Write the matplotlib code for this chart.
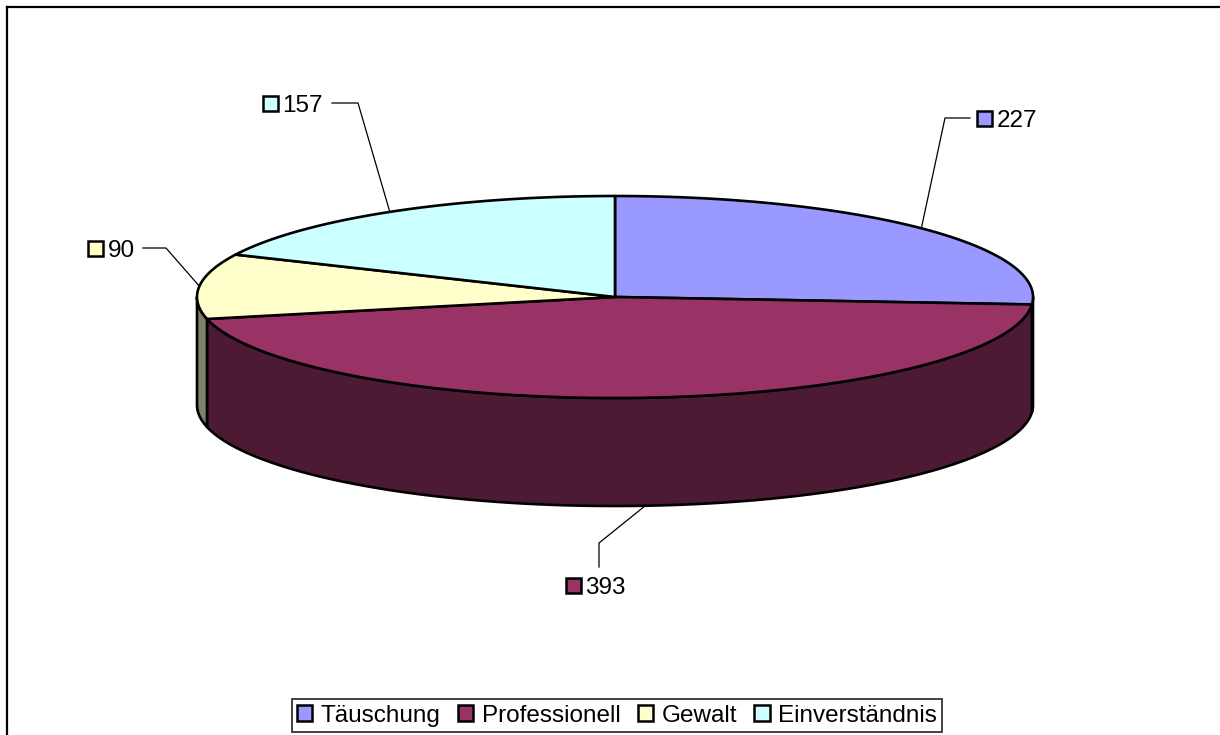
import numpy as np
import matplotlib
matplotlib.use("Agg")
import matplotlib.pyplot as plt
from matplotlib.patches import Polygon, Rectangle
from matplotlib.lines import Line2D

plt.rcParams['font.family'] = ['Liberation Sans', 'DejaVu Sans']

categories = ["Täuschung", "Professionell", "Gewalt", "Einverständnis"]
values = [227, 393, 90, 157]
colors = ["#9999FF", "#993366", "#FFFFCC", "#CCFFFF"]
side_colors = ["#4D4D80", "#4D1A33", "#808066", "#668080"]

W, H = 1220, 735
fig = plt.figure(figsize=(W / 100, H / 100), dpi=100)
ax = fig.add_axes([0, 0, 1, 1])
ax.set_xlim(0, W)
ax.set_ylim(H, 0)
ax.axis("off")

# pie geometry (screen pixels, y down)
cx, cy, rx, ry, depth = 615, 297, 418, 101, 108
lw = 1.9


def pt(t_deg, dy=0.0):
    t = np.radians(t_deg)
    return cx + rx * np.sin(t), cy - ry * np.cos(t) + dy


total = float(sum(values))
bounds = np.concatenate([[0], np.cumsum(values) / total * 360.0])

# sides (visible between 90 and 270 degrees)
for i in range(len(values)):
    a0, a1 = max(bounds[i], 90), min(bounds[i + 1], 270)
    if a1 <= a0:
        continue
    ts = np.linspace(a0, a1, 200)
    top = [pt(t) for t in ts]
    bot = [pt(t, depth) for t in ts[::-1]]
    ax.add_patch(Polygon(top + bot, closed=True, facecolor=side_colors[i],
                         edgecolor="black", linewidth=lw, joinstyle="round"))

# top faces
for i in range(len(values)):
    ts = np.linspace(bounds[i], bounds[i + 1], 300)
    verts = [(cx, cy)] + [pt(t) for t in ts]
    ax.add_patch(Polygon(verts, closed=True, facecolor=colors[i],
                         edgecolor="black", linewidth=lw, joinstyle="round"))

# data labels with leader lines
mids = (bounds[:-1] + bounds[1:]) / 2
label_pos = [(984, 118), (573, 585), (95, 248), (270, 103)]
fs = 17.5
sq = 15
for i, (lx, ly) in enumerate(label_pos):
    m = mids[i]
    on_side = 90 < m < 270 and i == 1
    tx, ty = pt(m, depth if on_side else 0)
    if i == 0:
        path = [(970, ly), (945, ly), (tx, ty)]
    elif i == 1:
        path = [(599, ly - 18), (599, ly - 42), (tx, ty)]
    elif i == 2:
        path = [(143, ly), (166, ly), (tx, ty)]
    else:
        path = [(332, ly), (358, ly), (tx, ty)]
    xs, ys = zip(*path)
    ax.add_line(Line2D(xs, ys, color="black", linewidth=0.9))
    ax.add_patch(Rectangle((lx - sq / 2, ly - sq / 2), sq, sq,
                           facecolor=colors[i], edgecolor="black", linewidth=1.8))
    ax.text(lx + sq / 2 + 5, ly, str(values[i]), fontsize=fs,
            ha="left", va="center_baseline")

# legend
leg = ax.legend(
    handles=[Rectangle((0, 0), 1, 1, facecolor=c, edgecolor="black", linewidth=1.8)
             for c in colors],
    labels=categories, loc="lower center", bbox_to_anchor=(617 / W, 0.004),
    ncol=4, frameon=True, fontsize=fs, handlelength=0.62, handleheight=0.62,
    handletextpad=0.35, columnspacing=0.72, borderpad=0.22, fancybox=False,
    borderaxespad=0)
leg.get_frame().set_edgecolor("black")
leg.get_frame().set_linewidth(1.3)

# outer chart frame (top and left visible)
ax.add_line(Line2D([7, 7], [H, 7], color="black", linewidth=1.6))
ax.add_line(Line2D([7, W], [7, 7], color="black", linewidth=1.6))

fig.savefig("out.png", dpi=100)
